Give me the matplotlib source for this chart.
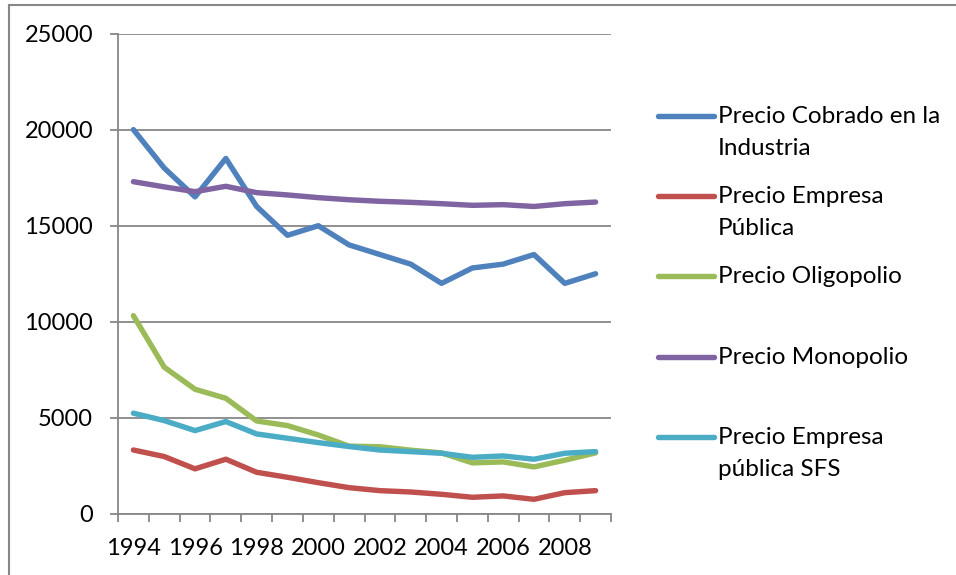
import matplotlib
matplotlib.use("Agg")
import matplotlib.pyplot as plt
from matplotlib.lines import Line2D
import numpy as np

years = list(range(1994, 2010))

precio_industria = [20000, 18000, 16500, 18500, 16000, 14500, 15000, 14000,
                    13500, 13000, 12000, 12800, 13000, 13500, 12000, 12500]
precio_publica = [3330, 2990, 2350, 2850, 2170, 1910, 1630, 1370,
                  1215, 1145, 1025, 870, 940, 765, 1110, 1215]
precio_oligopolio = [10320, 7640, 6490, 6020, 4840, 4600, 4110, 3530,
                     3500, 3320, 3180, 2660, 2710, 2450, 2800, 3180]
precio_monopolio = [17290, 17020, 16770, 17050, 16720, 16600, 16460, 16350,
                    16270, 16215, 16145, 16060, 16095, 16000, 16145, 16230]
precio_sfs = [5245, 4860, 4340, 4810, 4165, 3940, 3715, 3510,
              3330, 3245, 3160, 2950, 3020, 2850, 3160, 3245]

series = [precio_industria, precio_publica, precio_oligopolio, precio_monopolio, precio_sfs]
labels = ["Precio Cobrado en la\nIndustria", "Precio Empresa\nPública", "Precio Oligopolio",
          "Precio Monopolio", "Precio Empresa\npública SFS"]
colors = ["#4F81BD", "#C0504D", "#9BBB59", "#8064A2", "#4BACC6"]

W, H = 956, 575
FONT = "Lato"
FS = 17
GRAY = "#878787"

fig = plt.figure(figsize=(W / 100, H / 100), dpi=100)
ax = fig.add_axes([118 / W, 1 - 514 / H, 493 / W, 480.5 / H])

for vals, col, lab in zip(series, colors, labels):
    ax.plot(years, vals, color=col, lw=3.9, solid_capstyle="round",
            solid_joinstyle="round", label=lab)

ax.set_xlim(1993.5, 2009.5)
ax.set_ylim(0, 25000)
ax.set_yticks(np.arange(0, 25001, 5000))
ax.set_xticks(years[::2])
ax.set_xticks(np.arange(1993.5, 2010, 1), minor=True)

ax.grid(axis="y", color=GRAY, lw=1.3)
ax.set_axisbelow(True)
for s in ["top", "right"]:
    ax.spines[s].set_visible(False)
for s in ["left", "bottom"]:
    ax.spines[s].set_color(GRAY)
    ax.spines[s].set_linewidth(1.3)

ax.tick_params(axis="y", direction="out", length=6, width=1.3, color=GRAY,
               pad=12, labelsize=FS)
ax.tick_params(axis="x", which="major", length=0, pad=17, labelsize=FS)
ax.tick_params(axis="x", which="minor", direction="out", length=6, width=1.3, color=GRAY)
for t in ax.get_xticklabels() + ax.get_yticklabels():
    t.set_fontfamily(FONT)

# legend, Excel style: handle next to the first line of each entry
leg_y = [116, 196, 276, 357, 437]
for py, col, lab in zip(leg_y, colors, labels):
    yf = 1 - py / H
    fig.add_artist(Line2D([658 / W, 714 / W], [yf, yf], color=col, lw=3.9,
                          solid_capstyle="round", transform=fig.transFigure))
    for i, line in enumerate(lab.split("\n")):
        fig.text(718 / W, 1 - (py + 7 + 32 * i) / H, line, fontsize=17.5,
                 fontfamily=FONT, va="baseline", ha="left")

# outer chart border
fig.add_artist(Line2D([8.5 / W, 1], [1 - 4.5 / H, 1 - 4.5 / H], color=GRAY, lw=1.5,
                      transform=fig.transFigure))
fig.add_artist(Line2D([8.5 / W, 8.5 / W], [0, 1 - 4.5 / H], color=GRAY, lw=1.5,
                      transform=fig.transFigure))

fig.savefig("out.png", dpi=100)
